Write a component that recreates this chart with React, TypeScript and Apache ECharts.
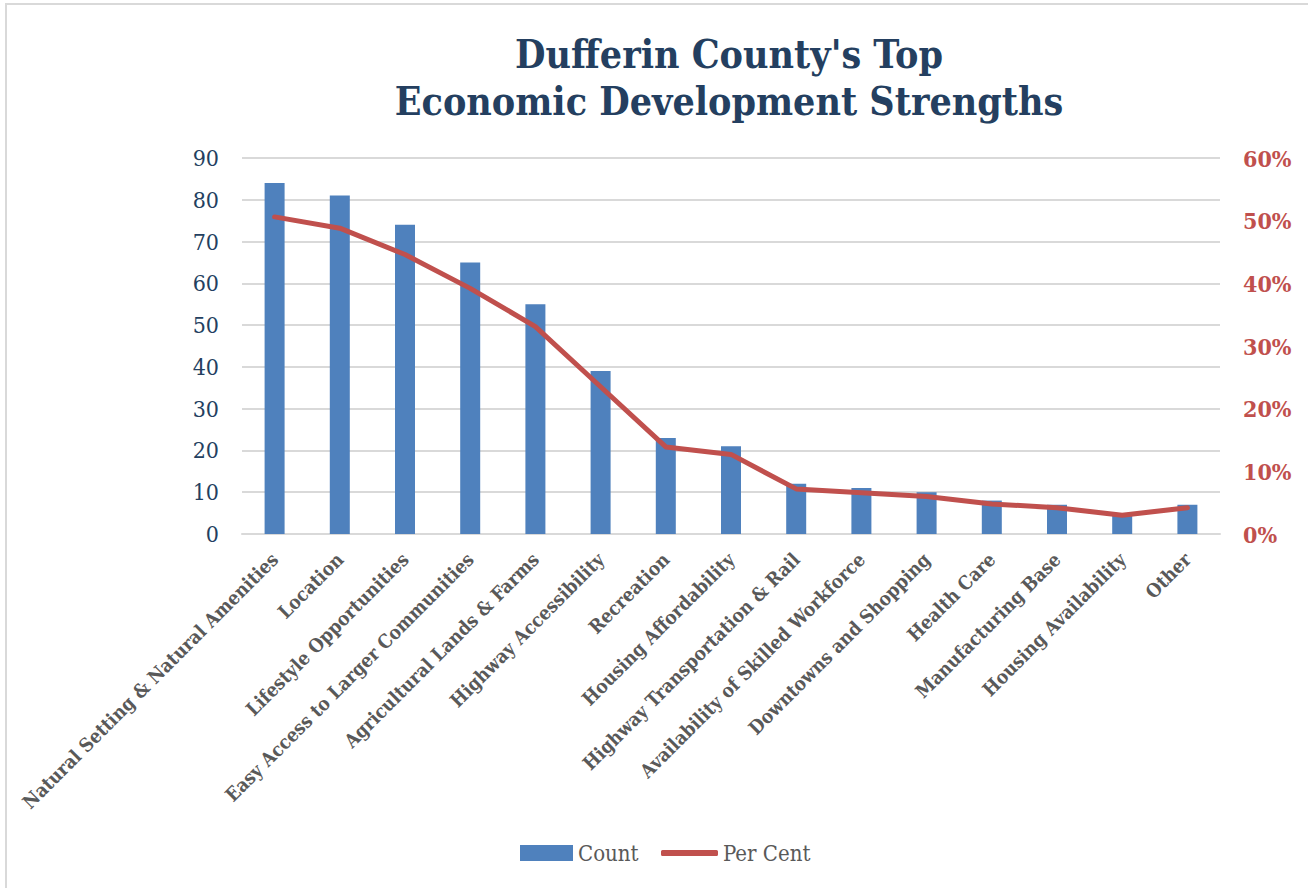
import React, { useEffect, useRef } from "react";
import * as echarts from "echarts";

const categories = [
  "Natural Setting & Natural Amenities",
  "Location",
  "Lifestyle Opportunities",
  "Easy Access to Larger Communities",
  "Agricultural Lands & Farms",
  "Highway Accessibility",
  "Recreation",
  "Housing Affordability",
  "Highway Transportation & Rail",
  "Availability of Skilled Workforce",
  "Downtowns and Shopping",
  "Health Care",
  "Manufacturing Base",
  "Housing Availability",
  "Other",
];
const countValues = [84, 81, 74, 65, 55, 39, 23, 21, 12, 11, 10, 8, 7, 5, 7];
const perCentValues = [50.6, 48.8, 44.6, 39.2, 33.1, 23.5, 13.9, 12.7, 7.2, 6.6, 6.0, 4.8, 4.2, 3.0, 4.2];
const titleLines = ["Dufferin County's Top", "Economic Development Strengths"];

const SERIF = "'DejaVu Serif Condensed', 'DejaVu Serif', 'Liberation Serif', serif";

export default function App() {
  const ref = useRef<HTMLDivElement>(null);
  useEffect(() => {
    document.body.style.margin = "0";
    if (!ref.current) return;
    const chart = echarts.init(ref.current, null, { renderer: "svg" });
    chart.setOption({
      animation: false,
      backgroundColor: "#ffffff",
      graphic: [
        {
          type: "rect",
          shape: { x: 6, y: 4, width: 1330, height: 910 },
          style: { fill: "none", stroke: "#D9D9D9", lineWidth: 2 },
          silent: true,
        },
      ],
      title: {
        text: titleLines.join("\n"),
        left: 724,
        textAlign: "center",
        top: 25,
        textStyle: {
          fontFamily: SERIF,
          fontWeight: "bold",
          fontSize: 39,
          lineHeight: 47,
          color: "#243F60",
        },
      },
      legend: [
        {
          left: 515,
          top: 837,
          itemWidth: 53,
          itemHeight: 16,
          itemGap: 6,
          textStyle: { fontFamily: SERIF, fontSize: 22, color: "#595959" },
          data: [{ name: "Count", icon: "rect" }],
        },
        {
          left: 656,
          top: 837,
          itemWidth: 57,
          itemHeight: 6,
          textStyle: { fontFamily: SERIF, fontSize: 22, color: "#595959" },
          data: [{ name: "Per Cent", icon: "roundRect" }],
        },
      ],
      grid: { left: 242, right: 88, top: 158, bottom: 354 },
      xAxis: {
        type: "category",
        data: categories,
        axisLine: { show: true, lineStyle: { color: "#D9D9D9", width: 2 } },
        axisTick: { show: false },
        axisLabel: {
          rotate: 45,
          interval: 0,
          margin: 22,
          fontFamily: SERIF,
          fontWeight: "bold",
          fontSize: 19,
          color: "#595959",
        },
      },
      yAxis: [
        {
          type: "value",
          min: 0,
          max: 90,
          interval: 10,
          axisLine: { show: false },
          axisTick: { show: false },
          splitLine: { lineStyle: { color: "#D9D9D9", width: 2 } },
          axisLabel: {
            margin: 23,
            fontFamily: SERIF,
            fontSize: 23,
            color: "#243F60",
          },
        },
        {
          type: "value",
          min: 0,
          max: 60,
          interval: 10,
          axisLine: { show: false },
          axisTick: { show: false },
          splitLine: { show: false },
          axisLabel: {
            margin: 23,
            formatter: "{value}%",
            fontFamily: SERIF,
            fontWeight: "bold",
            fontSize: 23,
            color: "#C0504D",
          },
        },
      ],
      series: [
        {
          name: "Count",
          type: "bar",
          data: countValues,
          barWidth: 20,
          itemStyle: { color: "#4F81BD" },
        },
        {
          name: "Per Cent",
          type: "line",
          yAxisIndex: 1,
          data: perCentValues,
          showSymbol: false,
          symbol: "none",
          lineStyle: { color: "#C0504D", width: 5, cap: "round", join: "round" },
          itemStyle: { color: "#C0504D" },
        },
      ],
    });
    return () => chart.dispose();
  }, []);
  return <div ref={ref} style={{ width: 1308, height: 888 }} />;
}
